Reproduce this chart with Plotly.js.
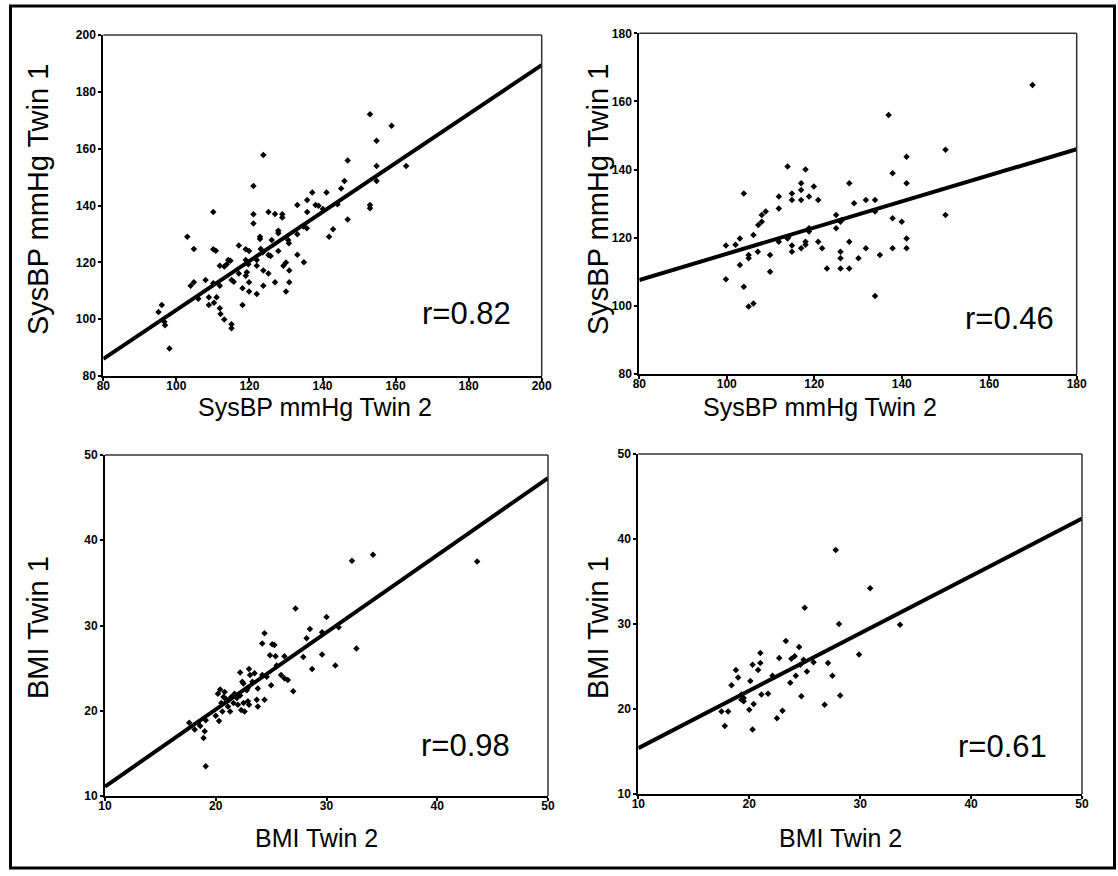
<!DOCTYPE html>
<html>
<head>
<meta charset="utf-8">
<script src="https://cdn.plot.ly/plotly-3.0.1.min.js"></script>
<style>html,body{margin:0;padding:0;background:#fff;}#chart{width:1118px;height:876px;}</style>
</head>
<body>
<div id="chart"></div>
<script>
// ---- Data ----
// Panel 1: Systolic BP, r=0.82
const sbpA_twin2 = [95.1,96.0,96.7,96.9,98.1,103.0,103.9,104.8,104.8,106.0,108.0,108.9,108.9,110.1,110.1,110.8,110.1,110.3,111.0,111.9,111.9,111.9,112.1,113.1,113.1,113.8,114.2,114.8,115.1,115.7,115.1,115.1,117.1,117.1,118.1,118.1,119.0,119.9,119.0,119.7,119.0,119.3,119.9,119.9,121.1,121.1,121.1,122.0,122.0,122.0,122.9,122.9,123.1,123.6,123.8,123.8,123.8,125.2,125.2,125.8,125.2,126.1,127.0,127.0,127.9,127.9,127.9,129.0,129.0,129.3,130.0,130.0,130.6,130.8,130.9,130.9,133.1,133.1,133.1,134.8,135.7,134.9,135.8,135.8,137.2,138.1,138.9,140.1,141.1,141.8,142.9,144.1,145.1,146.0,146.9,146.9,153.0,153.0,153.0,154.8,154.8,154.8,158.9,162.9];
const sbpA_twin1 = [102.5,105.0,99.1,97.9,89.7,129.0,111.8,113.0,124.7,107.2,113.8,107.7,105.0,137.7,124.6,124.1,112.6,105.8,107.7,118.8,111.8,103.8,101.8,99.9,118.5,119.3,120.8,120.6,113.8,113.2,98.2,96.8,125.9,116.1,105.0,110.9,124.6,124.0,120.8,119.3,115.3,116.5,113.0,109.7,146.9,136.9,133.7,120.8,118.8,108.9,129.0,128.2,124.7,123.5,157.8,117.1,111.8,137.7,122.6,122.2,116.1,127.9,137.0,113.0,131.1,130.2,124.0,136.9,135.8,118.8,119.9,109.7,127.9,126.7,117.1,113.0,140.2,129.9,122.7,132.6,132.0,120.0,141.9,137.7,144.6,140.2,139.9,138.8,144.6,129.0,131.6,140.4,146.0,148.6,155.8,135.1,172.1,140.2,139.0,162.8,153.9,148.6,168.1,153.9];
const sbpA_fitX = [80, 200];
const sbpA_fitY = [86.0, 189.4];

// Panel 2: Systolic BP, r=0.46
const sbpB_twin2 = [99.8,99.8,102.0,103.0,103.0,103.9,103.9,105.0,105.0,105.0,106.1,106.1,107.1,107.2,108.0,108.0,108.9,109.9,109.9,111.9,111.9,111.9,113.9,113.9,114.9,114.9,114.9,114.9,117.0,117.0,117.0,117.0,118.0,118.0,118.0,118.8,118.8,118.8,119.9,120.9,120.9,121.8,122.9,125.0,125.0,126.0,126.0,126.0,126.0,128.0,128.0,128.0,129.1,130.1,131.8,131.8,133.9,133.9,133.9,135.0,137.0,137.9,137.9,137.9,140.0,141.1,141.1,141.1,141.1,150.0,150.0,169.9,114.1,126.3];
const sbpB_twin1 = [117.7,107.8,117.9,119.8,112.0,133.0,105.6,114.9,114.0,99.8,100.7,120.8,115.9,123.7,124.7,126.7,127.7,114.9,110.0,132.1,128.6,118.8,140.9,119.8,133.0,131.1,117.7,115.9,136.0,134.0,131.1,116.9,140.0,118.8,117.9,132.1,122.8,121.8,135.0,131.1,118.8,116.9,111.0,126.7,122.8,124.7,115.9,114.0,111.0,136.0,118.8,111.0,130.1,114.0,131.1,116.9,131.1,127.7,102.9,114.9,156.0,138.9,125.7,116.9,124.7,143.8,136.0,119.8,116.9,145.8,126.7,164.8,120.3,125.2];
const sbpB_fitX = [80, 180];
const sbpB_fitY = [107.6, 146.0];

// Panel 3: BMI, r=0.98
const bmiA_twin2 = [17.6,18.1,18.4,18.6,19.0,18.9,19.1,19.1,20.0,20.3,20.2,20.4,20.5,20.7,20.8,20.6,21.0,21.1,21.3,21.4,21.6,21.7,21.9,22.0,22.2,22.2,22.4,22.5,22.5,22.3,22.6,22.8,22.9,23.0,23.1,23.0,23.3,23.5,23.7,23.8,23.8,24.2,24.2,24.4,24.4,24.6,24.9,25.0,25.1,25.3,25.4,25.5,25.9,26.2,26.2,26.5,27.0,27.2,27.9,28.2,28.5,28.7,29.6,29.6,30.0,30.8,31.1,32.3,32.7,34.2,43.6,22.9,21.2,20.9];
const bmiA_twin1 = [18.6,17.8,18.6,18.2,17.6,16.8,13.5,18.9,19.4,18.8,22.0,22.5,20.9,21.6,22.2,19.9,21.1,20.5,19.9,21.6,20.9,22.0,21.5,20.7,21.8,24.5,23.4,23.2,20.9,20.1,19.9,22.4,21.1,24.9,24.2,20.7,23.4,24.4,21.3,22.6,20.5,27.9,24.2,21.3,29.1,24.0,26.5,23.0,27.8,27.7,26.4,25.3,24.2,26.4,23.8,23.6,22.3,32.0,26.3,28.5,29.6,24.9,29.2,26.6,31.0,25.3,29.8,37.6,27.3,38.3,37.5,22.7,21.3,21.4];
const bmiA_fitX = [10, 50];
const bmiA_fitY = [11.1, 47.3];

// Panel 4: BMI, r=0.61
const bmiB_twin2 = [17.5,17.8,18.1,18.4,18.8,19.0,19.3,19.5,19.3,19.5,20.0,20.1,20.3,20.3,20.4,20.8,21.0,21.0,21.1,21.7,22.1,22.5,22.7,23.0,23.3,23.7,23.8,24.1,24.2,24.5,24.7,24.9,25.0,25.2,25.8,26.8,27.1,27.5,27.8,28.1,28.2,29.9,30.9,33.6,24.6];
const bmiB_twin1 = [19.7,18.0,19.7,22.8,24.6,23.7,21.7,21.3,21.1,20.9,19.9,23.3,25.2,17.6,20.6,24.6,26.6,25.4,21.7,21.8,23.9,18.9,26.0,19.8,28.0,23.1,25.9,26.2,23.9,27.3,21.5,25.8,31.9,24.4,25.5,20.5,25.4,23.9,38.7,30.0,21.6,26.4,34.2,29.9,25.2];
const bmiB_fitX = [10, 50];
const bmiB_fitY = [15.4, 42.4];

const sbpTicks = {A:[80,100,120,140,160,180,200], B:[80,100,120,140,160,180]};
const bmiTicks = [10,20,30,40,50];
const rLabels = ["r=0.82","r=0.46","r=0.98","r=0.61"];
const xTitles = ["SysBP mmHg Twin 2","SysBP mmHg Twin 2","BMI Twin 2","BMI Twin 2"];
const yTitles = ["SysBP mmHg Twin 1","SysBP mmHg Twin 1","BMI Twin 1","BMI Twin 1"];

// ---- Layout helpers ----
const W = 1118, H = 876;
const px = x => x / W;
const py = y => 1 - y / H;
// plot boxes in pixels [left, top, right, bottom]
const boxes = [
  [103.3, 35, 541.7, 376],
  [639.3, 33.3, 1076.7, 374],
  [105, 455, 548, 796],
  [638.3, 454, 1082, 794]
];
const ranges = [[80,200],[80,180],[10,50],[10,50]];
const tickSets = [sbpTicks.A, sbpTicks.B, bmiTicks, bmiTicks];

const FONT = "Liberation Sans, Arial, sans-serif";
const traces = [];
const sets = [
  [sbpA_twin2, sbpA_twin1, sbpA_fitX, sbpA_fitY],
  [sbpB_twin2, sbpB_twin1, sbpB_fitX, sbpB_fitY],
  [bmiA_twin2, bmiA_twin1, bmiA_fitX, bmiA_fitY],
  [bmiB_twin2, bmiB_twin1, bmiB_fitX, bmiB_fitY]
];
const layout = {
  width: W, height: H,
  margin: {l:0, r:0, t:0, b:0},
  paper_bgcolor: "#ffffff", plot_bgcolor: "#ffffff",
  showlegend: false,
  font: {family: FONT, color: "#000"},
  shapes: [], annotations: []
};

sets.forEach((s, i) => {
  const n = i === 0 ? "" : String(i + 1);
  const xa = "x" + n, ya = "y" + n;
  traces.push({x: s[0], y: s[1], xaxis: xa, yaxis: ya, type: "scatter", mode: "markers",
    marker: {symbol: "diamond", size: 5, color: "#000"}, hoverinfo: "x+y"});
  traces.push({x: s[2], y: s[3], xaxis: xa, yaxis: ya, type: "scatter", mode: "lines",
    line: {color: "#000", width: 4}, hoverinfo: "skip"});
  const b = boxes[i];
  const common = {
    showgrid: false, zeroline: false, showline: true, linecolor: "#000", linewidth: 2,
    ticks: "outside", ticklen: 3, tickwidth: 2, tickcolor: "#000",
    tickmode: "array", tickvals: tickSets[i], ticktext: tickSets[i].map(v => "<b>" + v + "</b>"),
    tickfont: {family: FONT, size: 12, color: "#000"},
    range: ranges[i], fixedrange: true
  };
  layout["xaxis" + n] = Object.assign({}, common, {domain: [px(b[0]), px(b[2])], anchor: ya, ticklabelstandoff: -5});
  layout["yaxis" + n] = Object.assign({}, common, {domain: [py(b[3]), py(b[1])], anchor: xa, ticklabelstandoff: 0});
  // top and right frame lines
  layout.shapes.push({type: "line", xref: xa + " domain", yref: ya + " domain", x0: 0, x1: 1, y0: 1, y1: 1, line: {color: "#333", width: 1.5}});
  layout.shapes.push({type: "line", xref: xa + " domain", yref: ya + " domain", x0: 1, x1: 1, y0: 0, y1: 1, line: {color: "#333", width: 1.5}});
});

// r labels
const rPos = [[466.7, 314], [1009, 318], [465, 745], [1002, 746]];
rPos.forEach((p, i) => layout.annotations.push({
  text: rLabels[i], xref: "paper", yref: "paper", x: px(p[0]), y: py(p[1]),
  xanchor: "center", yanchor: "middle", showarrow: false, font: {family: FONT, size: 31, color: "#000"}
}));
// axis titles
const xtPos = [[315, 407], [820, 407], [316, 838], [840, 838]];
const ytPos = [[38, 200], [598, 200], [38, 628], [598, 628]];
xtPos.forEach((p, i) => layout.annotations.push({
  text: xTitles[i], xref: "paper", yref: "paper", x: px(p[0]), y: py(p[1]),
  xanchor: "center", yanchor: "middle", showarrow: false, font: {family: FONT, size: 25, color: "#000"}
}));
ytPos.forEach((p, i) => layout.annotations.push({
  text: yTitles[i], xref: "paper", yref: "paper", x: px(p[0]), y: py(p[1]), textangle: -90,
  xanchor: "center", yanchor: "middle", showarrow: false, font: {family: FONT, size: 29, color: "#000"}
}));
// outer frame
layout.shapes.push({type: "rect", xref: "paper", yref: "paper", x0: px(10.5), x1: px(1114.5), y0: py(868), y1: py(6),
  line: {color: "#000", width: 3}});

Plotly.newPlot("chart", traces, layout, {displayModeBar: false, staticPlot: true});
</script>
</body>
</html>
